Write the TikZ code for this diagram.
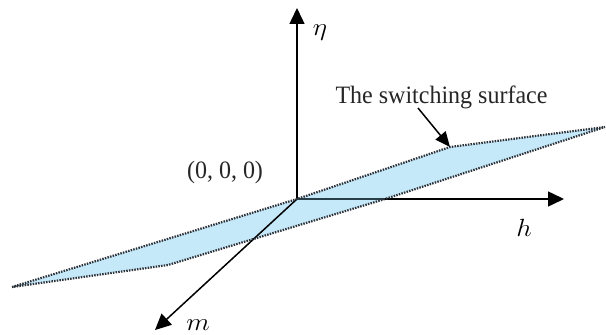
\documentclass[tikz,border=0pt]{standalone}
\usepackage{fontspec}
\setmainfont{Liberation Serif}
\usetikzlibrary{arrows.meta}
\definecolor{SSblue}{RGB}{198,233,250}
\definecolor{SSdots}{RGB}{45,50,56}
\definecolor{SSaxis}{RGB}{40,62,72}
\tikzset{
  axis/.style={-{Triangle[length=16pt,width=15pt]},line width=1.5pt,draw=black},
  surffill/.style={fill=SSblue},
  surfedge/.style={draw=SSdots,line width=2.2pt,dash pattern=on 1.5pt off 1.2pt},
  ptr/.style={-{Triangle[length=15pt,width=13pt]},line width=1.5pt,draw=black},
  lbl/.style={font=\fontsize{25}{30}\selectfont,xscale=0.96,inner sep=0pt,text=black!85},
  axlbl/.style={font=\fontsize{28}{32}\selectfont,xscale=1.1,inner sep=0pt},
}

\begin{document}
\begin{tikzpicture}[x=1pt,y=1pt]
    \useasboundingbox (0,0) rectangle (606,335);
    \coordinate (O) at (297,136);
    \coordinate (etatip) at (297,327);
    \coordinate (htip) at (564,136);
    \coordinate (mtip) at (155,5);
    \coordinate (L) at (12,48);
    \coordinate (B) at (168,70);
    \coordinate (P) at (385,136);
    \coordinate (R) at (605,208);
    \coordinate (T) at (450,188);
    \coordinate (ptrtail) at (418,227);
    \path[surffill] (L) -- (O) -- (T) -- (R) -- (P) -- (B) -- cycle;
    \draw[axis] (O) -- (etatip);
    \draw[axis] (O) -- (htip);
    \draw[axis] (O) -- (mtip);
    \draw[SSaxis,line width=1.5pt] (O) -- (P);
    \draw[surfedge] (L) -- (O) -- (T) -- (R) -- (P) -- (B) -- cycle;
    \node[axlbl] (eta) at (320,302) {$\eta$};
    \node[axlbl] (hlbl) at (524,107) {$h$};
    \node[axlbl] (mlbl) at (198,10) {$m$};
    \node[lbl] (orig) at (225,163) {(0, 0, 0)};
    \node[lbl,anchor=base] (surf) at (441.5,231) {The switching surface};
    \draw[ptr] (ptrtail) -- (T);
  \end{tikzpicture}
\end{document}
